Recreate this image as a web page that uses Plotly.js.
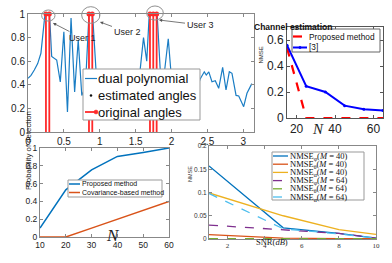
<!DOCTYPE html>
<html><head><meta charset="utf-8">
<script src="https://cdn.plot.ly/plotly-3.0.1.min.js"></script>
<style>html,body{margin:0;padding:0;background:#fff;overflow:hidden;}#c{width:392px;height:263px;}</style>
</head><body><div id="c"></div>
<script>
// ---- Panel 1: dual polynomial ----
var dpX = [0, 0.042, 0.088, 0.135, 0.18, 0.237, 0.27, 0.3, 0.33, 0.4, 0.45, 0.5, 0.55, 0.6, 0.65, 0.7, 0.75, 0.8, 0.85, 0.9, 0.96, 1.0, 1.05, 1.1, 1.15, 1.2, 1.25, 1.3, 1.35, 1.4, 1.45, 1.5, 1.55, 1.61, 1.655, 1.69, 1.75, 1.8, 1.85, 1.9, 1.955, 2.0, 2.05, 2.1, 2.15, 2.2, 2.25, 2.3, 2.35, 2.4, 2.457, 2.485, 2.52, 2.564, 2.61, 2.658, 2.713, 2.76, 2.806, 2.843, 2.9, 2.937, 3.006, 3.052, 3.12];
var dpY = [0.455, 0.48, 0.525, 0.58, 0.667, 1.0, 1.0, 1.0, 0.64, 0.61, 0.425, 0.85, 0.17, 0.965, 0.34, 0.78, 0.31, 0.38, 1.0, 1.0, 0.4, 0.3, 0.45, 0.2, 0.4, 0.3, 0.45, 0.25, 0.4, 0.35, 0.45, 0.3, 0.45, 0.8, 0.6, 1.0, 1.0, 1.0, 0.45, 0.5, 0.79, 0.45, 0.3, 0.45, 0.35, 0.4, 0.3, 0.45, 0.35, 0.45, 0.51, 0.483, 0.51, 0.426, 0.435, 0.37, 0.548, 0.356, 0.51, 0.497, 0.31, 0.305, 0.215, 0.328, 0.41];
var origAngles = [0.25, 0.297, 0.85, 0.896, 1.70, 1.746, 1.793];
var estAngles = [0.25, 0.297, 0.85, 0.896, 1.70, 1.746, 1.793];
var users = ["User 1", "User 2", "User 3"];

// ---- Panel 2: channel estimation ----
var ceN = [15, 25, 35, 45, 55, 65];
var ceProposed = [0.54, 0, 0, 0, 0, 0];
var ceRef3 = [0.56, 0.245, 0.2, 0.095, 0.068, 0.057];

// ---- Panel 3: probability of detection ----
var pdN = [10, 20, 30, 40, 50, 60];
var pdProposed = [0.1, 0.53, 0.755, 0.905, 0.95, 1.0];
var pdCov = [0, 0, 0.1, 0.2, 0.3, 0.4];

// ---- Panel 4: NMSE vs SNR ----
var snr = [1, 5, 8, 10];
var phi40 = [0.157, 0.024, 0.012, 0.002];
var theta40 = [0.0095, 0.002, 0.001, 0.0008];
var alpha40 = [0.099, 0.05, 0.02, 0.01];
var phi64 = [0.030, 0.02, 0.012, 0.002];
var theta64 = [0.0005, 0.0005, 0.0005, 0.0005];
var alpha64 = [0.098, 0.022, 0.011, 0.002];

var W = 392, H = 263;
function px(x){return x/W;}
function py(y){return 1 - y/H;}

// stems (built from the data arrays)
var stX = [], stY = [];
origAngles.forEach(function(a){ stX.push(a, a, null); stY.push(0, 1, null); });
var topX = [], topY = [];
origAngles.forEach(function(a){ topX.push(a, null); topY.push(1, null); });
var estOnes = estAngles.map(function(){return 1;});

var ax1 = {domain:[px(28), px(254)], range:[0, 3.15]};
var ay1 = {domain:[py(132), py(14)], range:[0, 1]};
function d2p(x, y){
  return [ax1.domain[0] + (x-ax1.range[0])/(ax1.range[1]-ax1.range[0])*(ax1.domain[1]-ax1.domain[0]),
          ay1.domain[0] + (y-ay1.range[0])/(ay1.range[1]-ay1.range[0])*(ay1.domain[1]-ay1.domain[0])];
}

var MB = '#0072BD', MO = '#D95319', MY = '#EDB120', MP = '#7E2F8E', MG = '#77AC30', MC = '#4DBEEE';
var SANS = 'Liberation Sans, Arial, sans-serif';
var SERIF = 'Liberation Serif, DejaVu Serif, serif';

var traces = [
  {x: dpX, y: dpY, type:'scatter', mode:'lines', name:'dual polynomial', line:{color:'#1a7dc4', width:1.2}, xaxis:'x', yaxis:'y'},
  {x: estAngles, y: estOnes, type:'scatter', mode:'markers', name:'estimated angles', marker:{color:'#000', size:3}, xaxis:'x', yaxis:'y'},
  {x: stX, y: stY, type:'scatter', mode:'lines', name:'original angles', line:{color:'#ff2a2a', width:1.8}, xaxis:'x', yaxis:'y', cliponaxis:false},
  {x: topX, y: topY, type:'scatter', mode:'markers', name:'original angles', marker:{color:'#ff2a2a', size:5}, xaxis:'x', yaxis:'y', cliponaxis:false},

  {x: ceN, y: ceProposed, type:'scatter', mode:'lines', name:'Proposed method', line:{color:'#ff0000', width:2.2, dash:'dash'}, xaxis:'x2', yaxis:'y2'},
  {x: ceN, y: ceRef3, type:'scatter', mode:'lines+markers', name:'[3]', line:{color:'#0000ff', width:2}, marker:{color:'#0000ff', size:3}, xaxis:'x2', yaxis:'y2'},

  {x: pdN, y: pdProposed, type:'scatter', mode:'lines', name:'Proposed method', line:{color:MB, width:1.5}, xaxis:'x3', yaxis:'y3'},
  {x: pdN, y: pdCov, type:'scatter', mode:'lines', name:'Covariance-based method', line:{color:MO, width:1.5}, xaxis:'x3', yaxis:'y3'},

  {x: snr, y: phi40, type:'scatter', mode:'lines', name:'NMSE<sub>φ</sub>(<i>M</i> = 40)', line:{color:MB, width:1.3}, xaxis:'x4', yaxis:'y4'},
  {x: snr, y: theta40, type:'scatter', mode:'lines', name:'NMSE<sub>θ</sub>(<i>M</i> = 40)', line:{color:MO, width:1.3}, xaxis:'x4', yaxis:'y4'},
  {x: snr, y: alpha40, type:'scatter', mode:'lines', name:'NMSE<sub>α</sub>(<i>M</i> = 40)', line:{color:MY, width:1.3}, xaxis:'x4', yaxis:'y4'},
  {x: snr, y: phi64, type:'scatter', mode:'lines', name:'NMSE<sub>φ</sub>(<i>M</i> = 64)', line:{color:MP, width:1.3, dash:'dash'}, xaxis:'x4', yaxis:'y4'},
  {x: snr, y: theta64, type:'scatter', mode:'lines', name:'NMSE<sub>θ</sub>(<i>M</i> = 64)', line:{color:MG, width:1.3, dash:'dash'}, xaxis:'x4', yaxis:'y4'},
  {x: snr, y: alpha64, type:'scatter', mode:'lines', name:'NMSE<sub>α</sub>(<i>M</i> = 64)', line:{color:MC, width:1.3, dash:'dash'}, xaxis:'x4', yaxis:'y4'}
];
traces.forEach(function(t){ t.showlegend = false; t.hoverinfo = 'skip'; });

function axBase(extra){
  var o = {showline:true, mirror:'ticks', ticks:'inside', ticklen:3, linecolor:'#888', tickcolor:'#888', linewidth:1,
           showgrid:false, zeroline:false, tickfont:{family:SANS, size:10, color:'#222'}};
  for (var k in extra) o[k] = extra[k];
  return o;
}

var shapes = [], annotations = [];

// ellipses around peaks
var ell = [[0.19, 0.94, 0.376, 1.034], [0.748, 0.921, 1.003, 1.062], [1.654, 0.949, 1.886, 1.068]];
ell.forEach(function(e){
  var a = d2p(e[0], e[1]), b = d2p(e[2], e[3]);
  shapes.push({type:'circle', xref:'paper', yref:'paper', x0:a[0], y0:a[1], x1:b[0], y1:b[1], line:{color:'#909090', width:1}});
});
var heads = [[53, 23, 82, 38], [100, 22, 127, 32], [159, 20, 200, 25]];
heads.forEach(function(h, i){
  annotations.push({xref:'paper', yref:'paper', x:px(h[0]), y:py(h[1]), ax:h[2]-h[0], ay:h[3]-h[1], text:users[i],
          showarrow:true, arrowhead:2, arrowsize:0.8, arrowwidth:0.8, arrowcolor:'#555', font:{family:SANS, size:9, color:'#222'}});
});

// custom legends (plotly's own legend rows cannot be this compact)
function legend(box, items){
  shapes.push({type:'rect', xref:'paper', yref:'paper', x0:px(box.x0), x1:px(box.x1), y0:py(box.y1), y1:py(box.y0),
    fillcolor:'#fff', line:{color:box.border || '#999', width:1}});
  items.forEach(function(it, i){
    var t = traces[it.t], yc = box.rows[i];
    if (it.line !== false) {
      shapes.push({type:'line', xref:'paper', yref:'paper', x0:px(box.l0), x1:px(box.l1), y0:py(yc), y1:py(yc),
        line:{color:t.line.color, width:t.line.width, dash:t.line.dash || 'solid'}});
    }
    if (it.marker) {
      var mx = it.mx, r = it.r;
      shapes.push({type:'circle', xref:'paper', yref:'paper', x0:px(mx-r), x1:px(mx+r), y0:py(yc+r), y1:py(yc-r),
        fillcolor:it.mc, line:{color:it.mc, width:0.5}});
    }
    annotations.push({xref:'paper', yref:'paper', x:px(box.tx), y:py(yc), xanchor:'left', yanchor:'middle', text:t.name,
      showarrow:false, font:box.font});
  });
}
legend({x0:83, x1:200, y0:69, y1:120, rows:[78.5, 95.5, 112], l0:85, l1:97, tx:96, font:{family:SANS, size:13, color:'#111'}},
  [{t:0}, {t:1, line:false, marker:true, mx:91, r:1, mc:'#000'}, {t:2, marker:true, mx:96, r:2, mc:'#ff2a2a'}]);
legend({x0:292, x1:380, y0:29, y1:52, rows:[36.5, 47.5], l0:293, l1:307, tx:307, border:'#666', font:{family:SANS, size:8.3, color:'#111'}},
  [{t:4}, {t:5, marker:true, mx:300, r:1.2, mc:'#0000ff'}]);
legend({x0:68, x1:162, y0:180, y1:197, rows:[184, 192.5], l0:69, l1:80, tx:79.5, font:{family:SANS, size:7, color:'#111'}},
  [{t:6}, {t:7}]);
legend({x0:272, x1:364, y0:152, y1:200, rows:[156, 164.2, 172.4, 180.6, 188.8, 197], l0:273, l1:288, tx:288, font:{family:SERIF, size:8.5, color:'#111'}},
  [{t:8}, {t:9}, {t:10}, {t:11}, {t:12}, {t:13}]);

// titles
annotations.push(
  {xref:'paper', yref:'paper', x:px(334), y:py(20), text:'<b>Channel estimation</b>', showarrow:false, font:{family:SANS, size:8.5, color:'#111'}},
  {xref:'paper', yref:'paper', x:px(265), y:py(45), text:'NMSE', textangle:-90, showarrow:false, font:{family:SANS, size:6, color:'#222'}},
  {xref:'paper', yref:'paper', x:px(326), y:py(129), text:'<i>N</i>', showarrow:false, font:{family:SERIF, size:15, color:'#222'}},
  {xref:'paper', yref:'paper', x:px(22), y:py(192), text:'Probability of detection', textangle:-90, showarrow:false, font:{family:SANS, size:7.8, color:'#222'}},
  {xref:'paper', yref:'paper', x:px(104), y:py(247), text:'<i>N</i>', showarrow:false, font:{family:SERIF, size:17, color:'#222'}},
  {xref:'paper', yref:'paper', x:px(290), y:py(249), text:'SNR(<i>dB</i>)', showarrow:false, font:{family:SERIF, size:8.5, color:'#222'}},
  {xref:'paper', yref:'paper', x:px(190), y:py(184), text:'NMSE', textangle:-90, showarrow:false, font:{family:SANS, size:5.5, color:'#333'}}
);

var layout = {
  width: W, height: H, margin:{l:0, r:0, t:0, b:0}, paper_bgcolor:'#fff', plot_bgcolor:'#fff', showlegend:false,
  xaxis: axBase({domain:ax1.domain, range:ax1.range, tickvals:[0,0.5,1,1.5,2,2.5,3], anchor:'y'}),
  yaxis: axBase({domain:ay1.domain, range:ay1.range, tickvals:[0,0.2,0.4,0.6,0.8,1], anchor:'x'}),
  xaxis2: axBase({domain:[px(287), px(383)], range:[15, 65], tickvals:[20,40,60], anchor:'y2', linecolor:'#555', tickcolor:'#555', tickfont:{family:SANS, size:12, color:'#222'}}),
  yaxis2: axBase({domain:[py(118), py(27)], range:[0, 0.7], tickvals:[0,0.2,0.4,0.6], anchor:'x2', linecolor:'#555', tickcolor:'#555', tickfont:{family:SANS, size:12, color:'#222'}}),
  xaxis3: axBase({domain:[px(40), px(169)], range:[10, 60], tickvals:[10,20,30,40,50,60], anchor:'y3', tickfont:{family:SANS, size:8.5, color:'#222'}}),
  yaxis3: axBase({domain:[py(237), py(148)], range:[0, 1], tickvals:[0,0.2,0.4,0.6,0.8,1], anchor:'x3', tickfont:{family:SANS, size:8.5, color:'#222'}}),
  xaxis4: axBase({domain:[px(209), px(376)], range:[1, 10], tickvals:[2,4,6,8,10], anchor:'y4', tickfont:{family:SERIF, size:7, color:'#333'}}),
  yaxis4: axBase({domain:[py(239), py(146)], range:[0, 0.2], tickvals:[0,0.05,0.1,0.15,0.2], ticktext:['0','0.05','0.1','0.15','0.2'], anchor:'x4', tickfont:{family:SANS, size:6.5, color:'#333'}}),
  shapes: shapes,
  annotations: annotations
};

Plotly.newPlot('c', traces, layout, {displayModeBar:false, staticPlot:true});
</script>
</body></html>
